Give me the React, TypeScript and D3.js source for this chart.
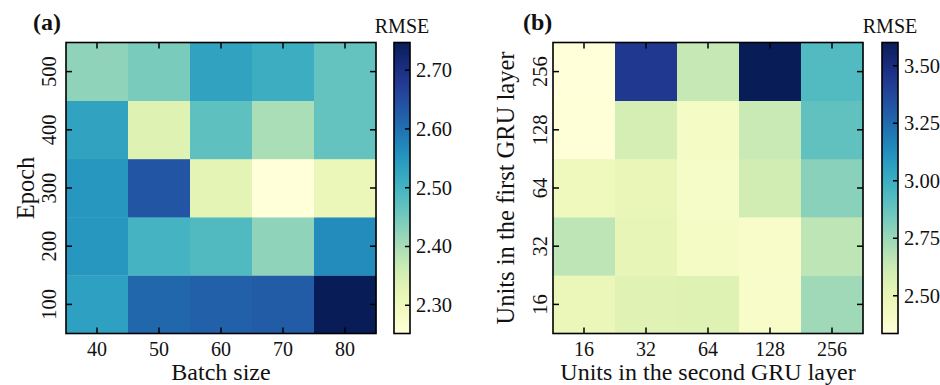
import React from "react";
import * as d3 from "d3";

// ---------- data ----------
const batchSizes = ["40", "50", "60", "70", "80"];
const epochs = ["100", "200", "300", "400", "500"];
// rows follow epochs (100..500), columns follow batchSizes
const rmseEpochBatch: number[][] = [
  [2.535, 2.613, 2.623, 2.628, 2.747],
  [2.55, 2.5, 2.485, 2.425, 2.565],
  [2.55, 2.638, 2.326, 2.252, 2.311],
  [2.53, 2.336, 2.47, 2.4, 2.465],
  [2.425, 2.445, 2.53, 2.51, 2.465],
];
const cbTicksA = [2.3, 2.4, 2.5, 2.6, 2.7];

const unitsSecond = ["16", "32", "64", "128", "256"];
const unitsFirst = ["16", "32", "64", "128", "256"];
// rows follow unitsFirst (16..256), columns follow unitsSecond
const rmseUnits: number[][] = [
  [2.49, 2.54, 2.55, 2.4, 2.74],
  [2.665, 2.51, 2.418, 2.4, 2.665],
  [2.46, 2.5, 2.41, 2.6, 2.79],
  [2.345, 2.59, 2.425, 2.63, 2.89],
  [2.336, 3.437, 2.64, 3.601, 2.93],
];
const cbTicksB = [2.5, 2.75, 3.0, 3.25, 3.5];

const FONT = "'Liberation Serif', 'Times New Roman', serif";

type PanelProps = {
  id: string;
  tag: string;
  xCats: string[];
  yCats: string[];
  values: number[][];
  cbTicks: number[];
  xTitle: string;
  yTitle: string;
  left: number;
  right: number;
  top: number;
  bottom: number;
  cbLeft: number;
  cbWidth: number;
  yTickGap: number;
  yTitleX: number;
  tagX: number;
  fmt: (v: number) => string;
};

function Panel(p: PanelProps) {
  const x = d3.scaleBand<string>().domain(p.xCats).range([p.left, p.right]);
  const y = d3
    .scaleBand<string>()
    .domain(p.yCats)
    .range([p.bottom, p.top]);
  const flat = p.values.flat();
  const ext = d3.extent(flat) as [number, number];
  const color = d3.scaleSequential(d3.interpolateYlGnBu).domain(ext);
  const cb = d3.scaleLinear().domain(ext).range([p.bottom, p.top]);
  const stops = d3.range(0, 1.0001, 0.02);
  const tickLen = 6;
  const cx = (c: string) => (x(c) as number) + x.bandwidth() / 2;
  const cy = (c: string) => (y(c) as number) + y.bandwidth() / 2;
  const gid = `grad-${p.id}`;
  return (
    <g>
      <defs>
        <linearGradient id={gid} x1="0" y1="1" x2="0" y2="0">
          {stops.map((t) => (
            <stop key={t} offset={t} stopColor={d3.interpolateYlGnBu(t)} />
          ))}
        </linearGradient>
      </defs>
      {/* cells */}
      {p.values.map((row, ri) =>
        row.map((v, ci) => (
          <rect
            key={`${ri}-${ci}`}
            x={x(p.xCats[ci])}
            y={y(p.yCats[ri])}
            width={x.bandwidth() + 0.3}
            height={y.bandwidth() + 0.3}
            fill={color(v)}
          />
        ))
      )}
      {/* frame */}
      <rect
        x={p.left}
        y={p.top}
        width={p.right - p.left}
        height={p.bottom - p.top}
        fill="none"
        stroke="#000"
        strokeWidth={1.6}
      />
      {/* ticks */}
      {p.xCats.map((c) => (
        <g key={`xt${c}`} stroke="#000" strokeWidth={1.5}>
          <line x1={cx(c)} x2={cx(c)} y1={p.bottom} y2={p.bottom - tickLen} />
          <line x1={cx(c)} x2={cx(c)} y1={p.top} y2={p.top + tickLen} />
        </g>
      ))}
      {p.yCats.map((c) => (
        <g key={`yt${c}`} stroke="#000" strokeWidth={1.5}>
          <line x1={p.left} x2={p.left + tickLen} y1={cy(c)} y2={cy(c)} />
          <line x1={p.right} x2={p.right - tickLen} y1={cy(c)} y2={cy(c)} />
        </g>
      ))}
      {/* tick labels */}
      {p.xCats.map((c) => (
        <text
          key={`xl${c}`}
          x={cx(c)}
          y={p.bottom + 22.5}
          textAnchor="middle"
          fontSize={20}
          fontFamily={FONT}
          fill="#111"
        >
          {c}
        </text>
      ))}
      {p.yCats.map((c) => (
        <text
          key={`yl${c}`}
          transform={`translate(${p.left - p.yTickGap},${cy(c)}) rotate(-90)`}
          textAnchor="middle"
          fontSize={20.5}
          fontFamily={FONT}
          fill="#111"
        >
          {c}
        </text>
      ))}
      {/* axis titles */}
      <text
        x={(p.left + p.right) / 2}
        y={p.bottom + 46.5}
        textAnchor="middle"
        fontSize={24}
        fontFamily={FONT}
        fill="#111"
      >
        {p.xTitle}
      </text>
      <text
        transform={`translate(${p.yTitleX},${(p.top + p.bottom) / 2}) rotate(-90)`}
        textAnchor="middle"
        fontSize={24.5}
        fontFamily={FONT}
        fill="#111"
      >
        {p.yTitle}
      </text>
      {/* panel tag */}
      <text
        x={p.tagX}
        y={30}
        fontSize={24}
        fontWeight="bold"
        fontFamily={FONT}
        fill="#111"
      >
        {p.tag}
      </text>
      {/* colorbar */}
      <rect
        x={p.cbLeft}
        y={p.top}
        width={p.cbWidth}
        height={p.bottom - p.top}
        fill={`url(#${gid})`}
        stroke="#000"
        strokeWidth={1.6}
      />
      {p.cbTicks.map((t) => (
        <g key={`cb${t}`}>
          <line
            x1={p.cbLeft + p.cbWidth}
            x2={p.cbLeft + p.cbWidth - 5}
            y1={cb(t)}
            y2={cb(t)}
            stroke="#000"
            strokeWidth={1.5}
          />
          <text
            x={p.cbLeft + p.cbWidth + 6}
            y={cb(t) + 7}
            fontSize={20.5}
            fontFamily={FONT}
            fill="#111"
          >
            {p.fmt(t)}
          </text>
        </g>
      ))}
      <text
        x={p.cbLeft + p.cbWidth / 2}
        y={33}
        textAnchor="middle"
        fontSize={20}
        fontFamily={FONT}
        fill="#111"
      >
        RMSE
      </text>
    </g>
  );
}

export default function App() {
  const fmt = d3.format(".2f");
  return (
    <div>
      <style>{`body{margin:0}`}</style>
      <svg
        width={940}
        height={385}
        viewBox="0 0 940 385"
        style={{ display: "block", background: "#fff" }}
      >
        <Panel
          id="a"
          tag="(a)"
          xCats={batchSizes}
          yCats={epochs}
          values={rmseEpochBatch}
          cbTicks={cbTicksA}
          xTitle="Batch size"
          yTitle="Epoch"
          left={66}
          right={376}
          top={42.5}
          bottom={333.5}
          cbLeft={394}
          cbWidth={16}
          yTickGap={10}
          yTitleX={34}
          tagX={33}
          fmt={fmt}
        />
        <Panel
          id="b"
          tag="(b)"
          xCats={unitsSecond}
          yCats={unitsFirst}
          values={rmseUnits}
          cbTicks={cbTicksB}
          xTitle="Units in the second GRU layer"
          yTitle="Units in the first GRU layer"
          left={553}
          right={863}
          top={42.5}
          bottom={333.5}
          cbLeft={882}
          cbWidth={16}
          yTickGap={6}
          yTitleX={514}
          tagX={523}
          fmt={fmt}
        />
      </svg>
    </div>
  );
}
